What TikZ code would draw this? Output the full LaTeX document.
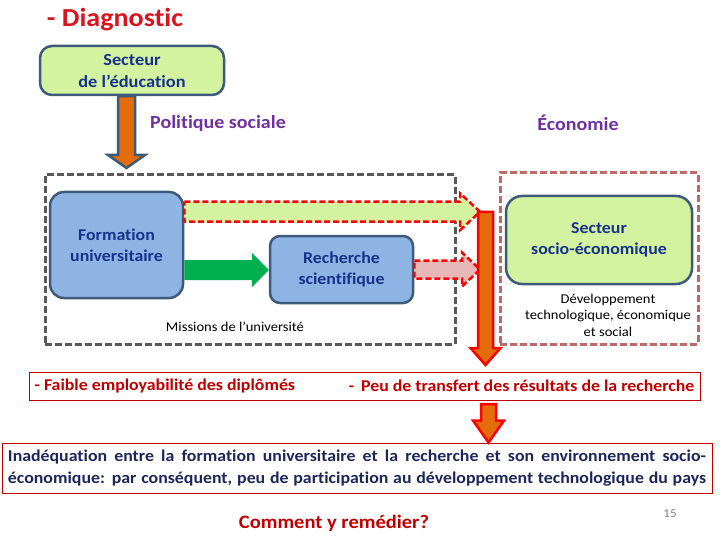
\documentclass[tikz,border=0pt]{standalone}
\usepackage{fontspec}
\setmainfont{Carlito}[Ligatures=NoCommon,FakeStretch=1.08]
\usetikzlibrary{calc}

\definecolor{leafgreen}{RGB}{212,243,160}
\definecolor{slate}{RGB}{61,90,122}
\definecolor{skyblue}{RGB}{142,180,227}
\definecolor{navy}{RGB}{22,50,140}
\definecolor{deepnavy}{RGB}{28,38,92}
\definecolor{plum}{RGB}{112,48,160}
\definecolor{signalred}{RGB}{218,20,28}
\definecolor{darkred}{RGB}{192,0,0}
\definecolor{pumpkin}{RGB}{228,108,10}
\definecolor{rosy}{RGB}{230,185,184}
\definecolor{greenarrow}{RGB}{0,176,80}
\definecolor{ashgray}{RGB}{89,89,89}
\definecolor{brickdash}{RGB}{192,104,104}

% block arrow to the right: style, from, to, half shaft, half head, head length
\newcommand{\rightblock}[6]{%
  \draw[#1] let \p1=(#2), \p2=(#3) in
    (\x1,\y1+#4) -- (\x2-#6,\y1+#4) -- (\x2-#6,\y1+#5) -- (\x2,\y1)
    -- (\x2-#6,\y1-#5) -- (\x2-#6,\y1-#4) -- (\x1,\y1-#4) -- cycle;}
% block arrow downwards: style, from, to, half shaft, half head, head length
\newcommand{\downblock}[6]{%
  \draw[#1] let \p1=(#2), \p2=(#3) in
    (\x1-#4,\y1) -- (\x1-#4,\y2+#6) -- (\x1-#5,\y2+#6) -- (\x1,\y2)
    -- (\x1+#5,\y2+#6) -- (\x1+#4,\y2+#6) -- (\x1+#4,\y1) -- cycle;}

\begin{document}
\begin{tikzpicture}[x=1pt,y=-1pt,
  greenbox/.style={draw=slate,line width=2.5pt,fill=leafgreen,rounded corners=12pt,
    text=navy,align=center,font=\fontsize{17}{22}\selectfont\bfseries},
  bluebox/.style={draw=slate,line width=2.5pt,fill=skyblue,rounded corners=14pt,
    text=navy,align=center,font=\fontsize{16.5}{21}\selectfont\bfseries},
  zonebox/.style={draw=ashgray,line width=3pt,dash pattern=on 7pt off 3pt},
  redzone/.style={draw=brickdash,line width=3pt,dash pattern=on 7pt off 3pt},
  flatbox/.style={draw=darkred,line width=1pt},
  heading/.style={text=plum,font=\fontsize{18.5}{22}\selectfont\bfseries},
  note/.style={align=center,font=\fontsize{13.5}{16.5}\selectfont},
  redflow/.style={draw=red,line width=2.5pt,dash pattern=on 6pt off 3pt}]
\useasboundingbox (0,0) rectangle (720,540);

% titles
\node[text=signalred,font=\fontsize{26}{30}\selectfont\bfseries] (title) at (115,20) {- Diagnostic};
\node[heading] (polsoc) at (218,123) {Politique sociale};
\node[heading] (eco) at (578,123) {Économie};

% education sector
\node[greenbox,minimum width=184pt,minimum height=49pt] (edu) at (132,70.5) {Secteur\\de l’éducation};

% university missions
\node[zonebox,minimum width=410pt,minimum height=169pt] (missions) at (250,259.5) {};
\node[bluebox,minimum width=133pt,minimum height=106pt] (form) at (116.5,245) {Formation\\universitaire};
\node[bluebox,minimum width=143pt,minimum height=67pt,rounded corners=10pt] (rech) at (341.5,269.5) {Recherche\\scientifique};
\node[note] (missionslbl) at (235,327) {Missions de l’université};

% socio-economic sector
\node[redzone,minimum width=198pt,minimum height=171pt] (ecozone) at (599,258.5) {};
\node[greenbox,minimum width=186pt,minimum height=88pt,rounded corners=16pt,
  font=\fontsize{16.5}{21}\selectfont\bfseries] (socio) at (599,240) {Secteur\\socio-économique};
\node[note] (dev) at (608,315) {Développement\\technologique, économique\\et social};

% diagnosis
\node[flatbox,minimum width=671pt,minimum height=28pt] (diag) at (364.5,386) {};
\node[text=darkred,font=\fontsize{16.5}{18}\selectfont\bfseries,anchor=west] (employ) at (31,386) {- Faible employabilité des diplômés};
\node[text=darkred,font=\fontsize{16.5}{18}\selectfont\bfseries,anchor=east] (transfer) at (698,386) {-\, Peu de transfert des résultats de la recherche};

\node[flatbox,minimum width=710pt,minimum height=50pt,text=deepnavy,
  font=\fontsize{16.5}{22}\selectfont\bfseries,align=left,inner sep=0pt] (concl) at (357,468)
  {\makebox[698pt][s]{Inadéquation entre la formation universitaire et la recherche et son environnement socio-}\\
   \makebox[698pt][s]{économique: par conséquent, peu de participation au développement technologique du pays}};

\node[text=darkred,font=\fontsize{19}{22}\selectfont\bfseries] (remedy) at (334,523) {Comment y remédier?};
\node[text=gray,font=\fontsize{12}{14}\selectfont] (page) at (670,514) {15};

% arrows
\coordinate (trunktop) at (485.5,212);
\coordinate (trunkend) at (485.5,365);
\coordinate (eduend) at (126.5,168);
\coordinate (smallstart) at (488.5,404);

\downblock{draw=slate,line width=2.5pt,fill=pumpkin}{$(edu.south)+(-5.5,0)$}{eduend}{8.5pt}{18.5pt}{13pt}
\rightblock{redflow,fill=leafgreen}{$(form.north east)+(0,21)$}{$(trunktop)+(-5.5,0)$}{10pt}{18.5pt}{20pt}
\rightblock{draw=none,fill=greenarrow}{$(form.east)+(0,25)$}{rech.west}{10pt}{17.5pt}{17pt}
\rightblock{redflow,fill=rosy}{rech.east}{$(trunktop)+(-5.5,0)$}{9pt}{17pt}{18pt}
\downblock{draw=red,line width=2.5pt,fill=pumpkin}{trunktop}{trunkend}{7.5pt}{15pt}{17pt}
\downblock{draw=red,line width=2.5pt,fill=pumpkin}{smallstart}{smallstart |- concl.north}{7.5pt}{15.5pt}{22pt}

\end{tikzpicture}
\end{document}
